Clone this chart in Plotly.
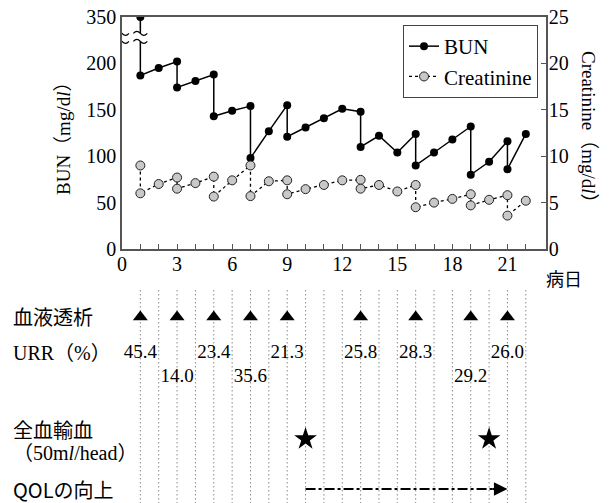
import plotly.graph_objects as go

# ---------------- data ----------------
DAYS = [1, 1, 2, 3, 3, 4, 5, 5, 6, 7, 7, 8, 9, 9, 10, 11, 12, 13, 13, 14, 15,
        16, 16, 17, 18, 19, 19, 20, 21, 21, 22]
BUN = [350, 187, 195, 202, 174, 181, 188, 143, 149, 154, 98, 127, 155, 121, 131,
       141, 151, 148, 110, 122, 104, 124, 90, 104, 118, 132, 80, 94, 116, 86, 124]
CREATININE = [9.0, 6.0, 7.0, 7.7, 6.5, 7.1, 7.8, 5.65, 7.4, 9.0, 5.7, 7.3, 7.4, 5.9,
              6.45, 6.9, 7.4, 7.45, 6.5, 6.9, 6.2, 6.9, 4.5, 5.0, 5.4, 5.9, 4.7, 5.3,
              5.8, 3.6, 5.2]

BUN_TICKS = [0, 50, 100, 150, 200, 350]
CRE_TICKS = [0, 5, 10, 15, 20, 25]
X_TICK_LABEL_DAYS = [0, 3, 6, 9, 12, 15, 18, 21]
ALL_DAYS = list(range(0, 23))

DIALYSIS_DAYS = [1, 3, 5, 7, 9, 13, 16, 19, 21]
URR = ["45.4", "14.0", "23.4", "35.6", "21.3", "25.8", "28.3", "29.2", "26.0"]
URR_LOWER_ROW = [False, True, False, True, False, False, False, True, False]
TRANSFUSION_DAYS = [10, 20]
QOL_START, QOL_END = 10, 21
GRID_DAYS = list(range(1, 23))

# axis break: values above the break are shifted down
BREAK_AT = 228
BREAK_SHIFT = 100
BUN_PLOT = [v - BREAK_SHIFT if v > 250 else v for v in BUN]
BUN_TICKVALS = [v - BREAK_SHIFT if v > 250 else v for v in BUN_TICKS]

# ---------------- layout geometry ----------------
FW, FH = 609, 503
ML, MR, MT, MB = 122, 63, 17, 0
PW = FW - ML - MR
PH = FH - MT - MB


def px(xp):
    return (xp - ML) / PW


def py(yp):
    return (FH - MB - yp) / PH


SERIF = '"Liberation Serif", "Times New Roman", "Noto Sans CJK JP", serif'
CJK = '"Noto Sans CJK JP", "Liberation Serif", sans-serif'
AX = "#555555"

# lower panel rows (offset in px from panel top)
PANEL_TOP = 285
ROW_DIALYSIS = 32
ROW_URR_UP = 68
ROW_URR_LOW = 92
ROW_STAR = 154
ROW_QOL = 204

fig = go.Figure()

fig.add_trace(go.Scatter(
    x=DAYS, y=BUN_PLOT, name="BUN", mode="lines+markers",
    line=dict(color="black", width=1.5),
    marker=dict(color="black", size=8),
    xaxis="x", yaxis="y"))

fig.add_trace(go.Scatter(
    x=DAYS, y=CREATININE, name="Creatinine", mode="lines+markers",
    line=dict(color="black", width=1.3, dash="3px,3px"),
    marker=dict(color="#c8c8c8", size=9, line=dict(color="#222222", width=1)),
    xaxis="x", yaxis="y3"))

# ---------------- lower panel ----------------
gx, gy = [], []
for d in GRID_DAYS:
    gx += [d, d, None]
    gy += [5, FH - PANEL_TOP, None]
fig.add_trace(go.Scatter(
    x=gx, y=gy, mode="lines", showlegend=False, hoverinfo="skip",
    line=dict(color="#8a8a8a", width=1, dash="1.5px,2.5px"),
    xaxis="x2", yaxis="y2"))

fig.add_trace(go.Scatter(
    x=DIALYSIS_DAYS, y=[ROW_DIALYSIS] * len(DIALYSIS_DAYS), mode="markers",
    marker=dict(symbol="triangle-up", size=13, color="black"),
    showlegend=False, xaxis="x2", yaxis="y2"))

fig.add_trace(go.Scatter(
    x=DIALYSIS_DAYS,
    y=[ROW_URR_LOW if low else ROW_URR_UP for low in URR_LOWER_ROW],
    mode="text", text=URR, textposition="middle center",
    textfont=dict(family=SERIF, size=19, color="black"),
    showlegend=False, xaxis="x2", yaxis="y2"))

fig.add_trace(go.Scatter(
    x=TRANSFUSION_DAYS, y=[ROW_STAR] * len(TRANSFUSION_DAYS), mode="markers",
    marker=dict(symbol="star", size=17, color="black"),
    showlegend=False, xaxis="x2", yaxis="y2"))

fig.add_trace(go.Scatter(
    x=[QOL_START, QOL_END - 0.8], y=[ROW_QOL, ROW_QOL], mode="lines",
    line=dict(color="black", width=2, dash="10px,3px,3px,3px"),
    showlegend=False, xaxis="x2", yaxis="y2"))

annotations = [
    dict(x=QOL_END, y=ROW_QOL, xref="x2", yref="y2", ax=QOL_END - 0.9, ay=ROW_QOL,
         axref="x2", ayref="y2", text="", showarrow=True, arrowhead=2,
         arrowsize=1.5, arrowwidth=1.8, arrowcolor="black"),
]

left_labels = [
    ("血液透析", ROW_DIALYSIS, CJK),
    ("URR（%）", ROW_URR_UP, SERIF),
    ("全血輸血", 145, CJK),
    ("（50m<i>l</i>/head）", 168, SERIF),
    ("QOLの向上", 205, CJK),
]
for txt, row, fam in left_labels:
    annotations.append(dict(
        x=px(11), y=row, xref="paper", yref="y2", text=txt, showarrow=False,
        xanchor="left", yanchor="middle", font=dict(family=fam, size=20, color="black")))

annotations += [
    dict(x=px(63), y=py(134), xref="paper", yref="paper", xanchor="center", yanchor="middle",
         text="BUN（mg/d<i>l</i>）", textangle=-90, showarrow=False,
         font=dict(family=SERIF, size=19, color="black")),
    dict(x=px(589), y=py(132), xref="paper", yref="paper", xanchor="center", yanchor="middle",
         text="Creatinine（mg/d<i>l</i>）", textangle=90, showarrow=False,
         font=dict(family=SERIF, size=19, color="black")),
    dict(x=px(564), y=py(278), xref="paper", yref="paper", xanchor="center", yanchor="middle",
         text="病日", showarrow=False, font=dict(family=CJK, size=18, color="black")),
]

# axis-break marks (pixel sized, anchored at data positions)
shapes = []
for anchor in [0, 1]:
    shapes.append(dict(
        type="path", xref="x", yref="y", xsizemode="pixel", ysizemode="pixel",
        xanchor=anchor, yanchor=BREAK_AT,
        path="M-7,4 Q-3.5,8 0,4 T7,4 L7,-4 Q3.5,-8 0,-4 T-7,-4 Z",
        fillcolor="white", line=dict(width=0)))
    for off in [4, -4]:
        shapes.append(dict(
            type="path", xref="x", yref="y", xsizemode="pixel", ysizemode="pixel",
            xanchor=anchor, yanchor=BREAK_AT,
            path=f"M-7,{off} Q-3.5,{off + 4} 0,{off} T7,{off}",
            line=dict(color="black", width=1.1)))

upper_dom = [py(249), 1]
lower_dom = [0, py(PANEL_TOP)]

fig.update_layout(
    width=FW, height=FH,
    margin=dict(l=ML, r=MR, t=MT, b=MB, autoexpand=False),
    paper_bgcolor="white", plot_bgcolor="white",
    font=dict(family=SERIF, size=19, color="black"),
    showlegend=True,
    legend=dict(x=px(538), y=py(25), xanchor="right", yanchor="top",
                bgcolor="white", bordercolor="#444444", borderwidth=1,
                font=dict(family=SERIF, size=21, color="black"),
                itemwidth=30, tracegroupgap=0),
    xaxis=dict(domain=[0, 1], range=[0, 23.1], anchor="y",
               tickvals=ALL_DAYS,
               ticktext=[str(d) if d in X_TICK_LABEL_DAYS else "" for d in ALL_DAYS],
               ticks="inside", ticklen=5, tickcolor=AX, tickwidth=1,
               showline=True, linecolor=AX, linewidth=1.5, mirror=True,
               showgrid=False, zeroline=False, automargin=False,
               ticklabelstandoff=-4,
               tickfont=dict(family=SERIF, size=20)),
    yaxis=dict(domain=upper_dom, range=[0, 250], anchor="x",
               tickvals=BUN_TICKVALS, ticktext=[str(v) for v in BUN_TICKS],
               ticks="", showline=True, linecolor=AX, linewidth=1.5,
               showgrid=False, zeroline=False, automargin=False,
               tickfont=dict(family=SERIF, size=20)),
    yaxis3=dict(range=[0, 25], overlaying="y", side="right", anchor="x",
                tickvals=CRE_TICKS, ticktext=[str(v) for v in CRE_TICKS],
                ticks="inside", ticklen=5, tickcolor=AX,
                showline=True, linecolor=AX, linewidth=1.5,
                showgrid=False, zeroline=False, automargin=False,
                ticklabelstandoff=-3,
                tickfont=dict(family=SERIF, size=20)),
    xaxis2=dict(domain=[0, 1], range=[0, 23.1], anchor="y2", visible=False),
    yaxis2=dict(domain=lower_dom, range=[FH - PANEL_TOP, 0], anchor="x2", visible=False),
    annotations=annotations,
    shapes=shapes,
)

fig.write_html(
    "out.html",
    config={"displayModeBar": False},
    post_script="document.body.style.margin='0px';document.body.style.overflow='hidden';",
)
